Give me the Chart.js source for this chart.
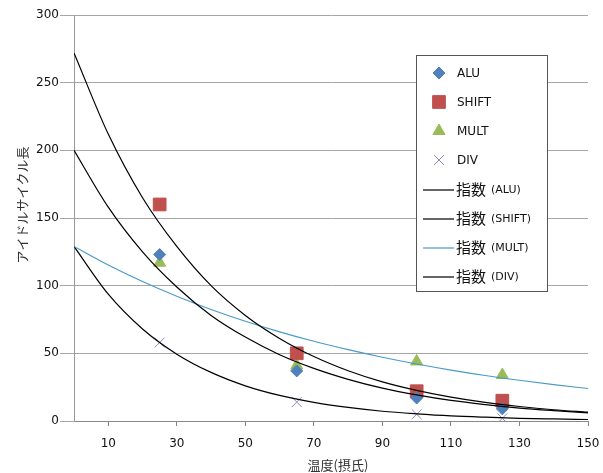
<!DOCTYPE html>
<html>
<head>
<meta charset="utf-8">
<script src="https://cdn.jsdelivr.net/npm/chart.js@4.4.0/dist/chart.umd.min.js"></script>
<style>
  html, body { margin: 0; padding: 0; background: #fff; }
</style>
</head>
<body>
<canvas id="c" width="603" height="473"></canvas>
<script>
// measured points (temperature in C)
const tempX = [25, 65, 100, 125];
const aluValues = [123, 37, 17, 9];
const shiftValues = [160, 50, 22, 15];
const multValues = [117, 41, 44, 34];
const divValues = [58, 14, 5, 2];

// exponential trend lines, every 10 degrees
const trendX = [0, 10, 20, 30, 40, 50, 60, 70, 80, 90, 100, 110, 120, 130, 140, 150];
const aluTrend = [200, 158, 125, 99, 78, 62, 49, 38.9, 30.8, 24.3, 19.3, 15.2, 12.1, 9.5, 7.6, 6.0];
const shiftTrend = [272, 212, 165, 129, 100, 78, 61, 47.6, 37.1, 28.9, 22.6, 17.6, 13.7, 10.7, 8.3, 6.5];
const multTrend = [129, 115.3, 103.1, 92.2, 82.4, 73.7, 65.9, 58.9, 52.7, 47.1, 42.1, 37.6, 33.6, 30.1, 26.9, 24.0];
const divTrend = [129, 93.7, 68, 49.4, 35.9, 26, 18.9, 13.7, 10, 7.2, 5.3, 3.8, 2.8, 2.0, 1.5, 1.1];

const xTickValues = [10, 30, 50, 70, 90, 110, 130, 150];
const seriesNames = ['ALU', 'SHIFT', 'MULT', 'DIV'];
const xTitle = '温度(摂氏)';
const yTitle = 'アイドルサイクル長';

const colors = {
  alu: '#4F81BD',
  shift: '#C0504D',
  mult: '#9BBB59',
  div: '#9088C4',
  multTrend: '#4A9AC9'
};

const pts = (xs, ys) => xs.map((x, i) => ({ x: x, y: ys[i] }));

const trendDs = (label, ys, color) => ({
  label: label,
  data: pts(trendX, ys),
  showLine: true,
  borderColor: color,
  borderWidth: 1.2,
  pointRadius: 0,
  cubicInterpolationMode: 'monotone',
  fill: false
});

const legendItems = [
  { kind: 'point', style: 'rectRot', radius: 6, color: colors.alu, text: seriesNames[0] },
  { kind: 'point', style: 'rect', radius: 9, color: colors.shift, text: seriesNames[1] },
  { kind: 'point', style: 'triangle', radius: 7, color: colors.mult, text: seriesNames[2] },
  { kind: 'point', style: 'crossRot', radius: 7, color: colors.div, text: seriesNames[3] },
  { kind: 'line', color: '#000', text: seriesNames[0] },
  { kind: 'line', color: '#000', text: seriesNames[1] },
  { kind: 'line', color: colors.multTrend, text: seriesNames[2] },
  { kind: 'line', color: '#000', text: seriesNames[3] }
];

const customLegend = {
  id: 'customLegend',
  afterDraw(chart) {
    const ctx = chart.ctx;
    ctx.save();
    ctx.fillStyle = '#fff';
    ctx.fillRect(416, 55, 131, 236);
    ctx.strokeStyle = '#555';
    ctx.lineWidth = 1;
    ctx.strokeRect(416.5, 55.5, 131, 236);
    const rowY = [73, 102, 131, 160, 189, 218, 247, 276];
    legendItems.forEach((it, i) => {
      const y = rowY[i];
      ctx.textBaseline = 'middle';
      ctx.textAlign = 'left';
      if (it.kind === 'point') {
        ctx.fillStyle = it.color;
        ctx.strokeStyle = it.color;
        ctx.lineWidth = 1;
        Chart.helpers.drawPoint(ctx, { pointStyle: it.style, radius: it.radius, rotation: 0, borderWidth: 1 }, 439, y);
        ctx.fillStyle = '#111';
        ctx.font = '12px "DejaVu Sans"';
        ctx.fillText(it.text, 457, y + 1);
      } else {
        ctx.strokeStyle = it.color;
        ctx.lineWidth = 1.2;
        ctx.beginPath();
        ctx.moveTo(423, y + 1);
        ctx.lineTo(454, y + 1);
        ctx.stroke();
        ctx.fillStyle = '#111';
        ctx.font = '15px "Noto Sans CJK JP"';
        ctx.fillText('指数', 456, y);
        ctx.font = '11px "DejaVu Sans"';
        ctx.fillText('(' + it.text + ')', 491, y + 1);
      }
    });
    ctx.textAlign = 'center';
    ctx.textBaseline = 'middle';
    ctx.fillStyle = '#333';
    ctx.font = '13px "Noto Sans CJK JP"';
    // horizontal axis title
    ctx.fillText(xTitle, 338, 465);
    // vertical axis title
    ctx.translate(22, 205);
    ctx.rotate(-Math.PI / 2);
    ctx.fillText(yTitle, 0, 0);
    ctx.restore();
  }
};

new Chart(document.getElementById('c').getContext('2d'), {
  type: 'scatter',
  data: {
    datasets: [
      trendDs('指数 (ALU)', aluTrend, '#000'),
      trendDs('指数 (SHIFT)', shiftTrend, '#000'),
      trendDs('指数 (MULT)', multTrend, colors.multTrend),
      trendDs('指数 (DIV)', divTrend, '#000'),
      { label: 'ALU', data: pts(tempX, aluValues), pointStyle: 'rectRot', pointRadius: 6,
        backgroundColor: colors.alu, borderColor: colors.alu },
      { label: 'SHIFT', data: pts(tempX, shiftValues), pointStyle: 'rect', pointRadius: 9,
        backgroundColor: colors.shift, borderColor: colors.shift },
      { label: 'MULT', data: pts(tempX, multValues), pointStyle: 'triangle', pointRadius: 7,
        backgroundColor: colors.mult, borderColor: colors.mult },
      { label: 'DIV', data: pts(tempX, divValues), pointStyle: 'crossRot', pointRadius: 7,
        backgroundColor: colors.div, borderColor: colors.div, borderWidth: 1 }
    ]
  },
  options: {
    responsive: false,
    animation: false,
    layout: { padding: { top: 15, right: 15, left: 0, bottom: 0 } },
    plugins: {
      legend: { display: false },
      tooltip: { enabled: false }
    },
    scales: {
      x: {
        type: 'linear',
        min: 0,
        max: 150,
        afterBuildTicks: (s) => { s.ticks = xTickValues.map(v => ({ value: v })); },
        afterFit: (s) => { s.height = 52; s.paddingLeft = 0; s.paddingRight = 0; },
        grid: { drawOnChartArea: false, drawTicks: true, tickLength: 5, color: '#888' },
        border: { color: '#888' },
        ticks: { padding: 11, maxRotation: 0, color: '#111', font: { family: 'DejaVu Sans', size: 12 } }
      },
      y: {
        min: 0,
        max: 300,
        afterFit: (s) => { s.width = 74; s.paddingTop = 0; s.paddingBottom = 0; },
        ticks: { stepSize: 50, padding: 1, color: '#111', font: { family: 'DejaVu Sans', size: 12 } },
        grid: { color: '#a6a6a6', tickLength: 14 },
        border: { color: '#999' }
      }
    }
  },
  plugins: [customLegend]
});
</script>
</body>
</html>
